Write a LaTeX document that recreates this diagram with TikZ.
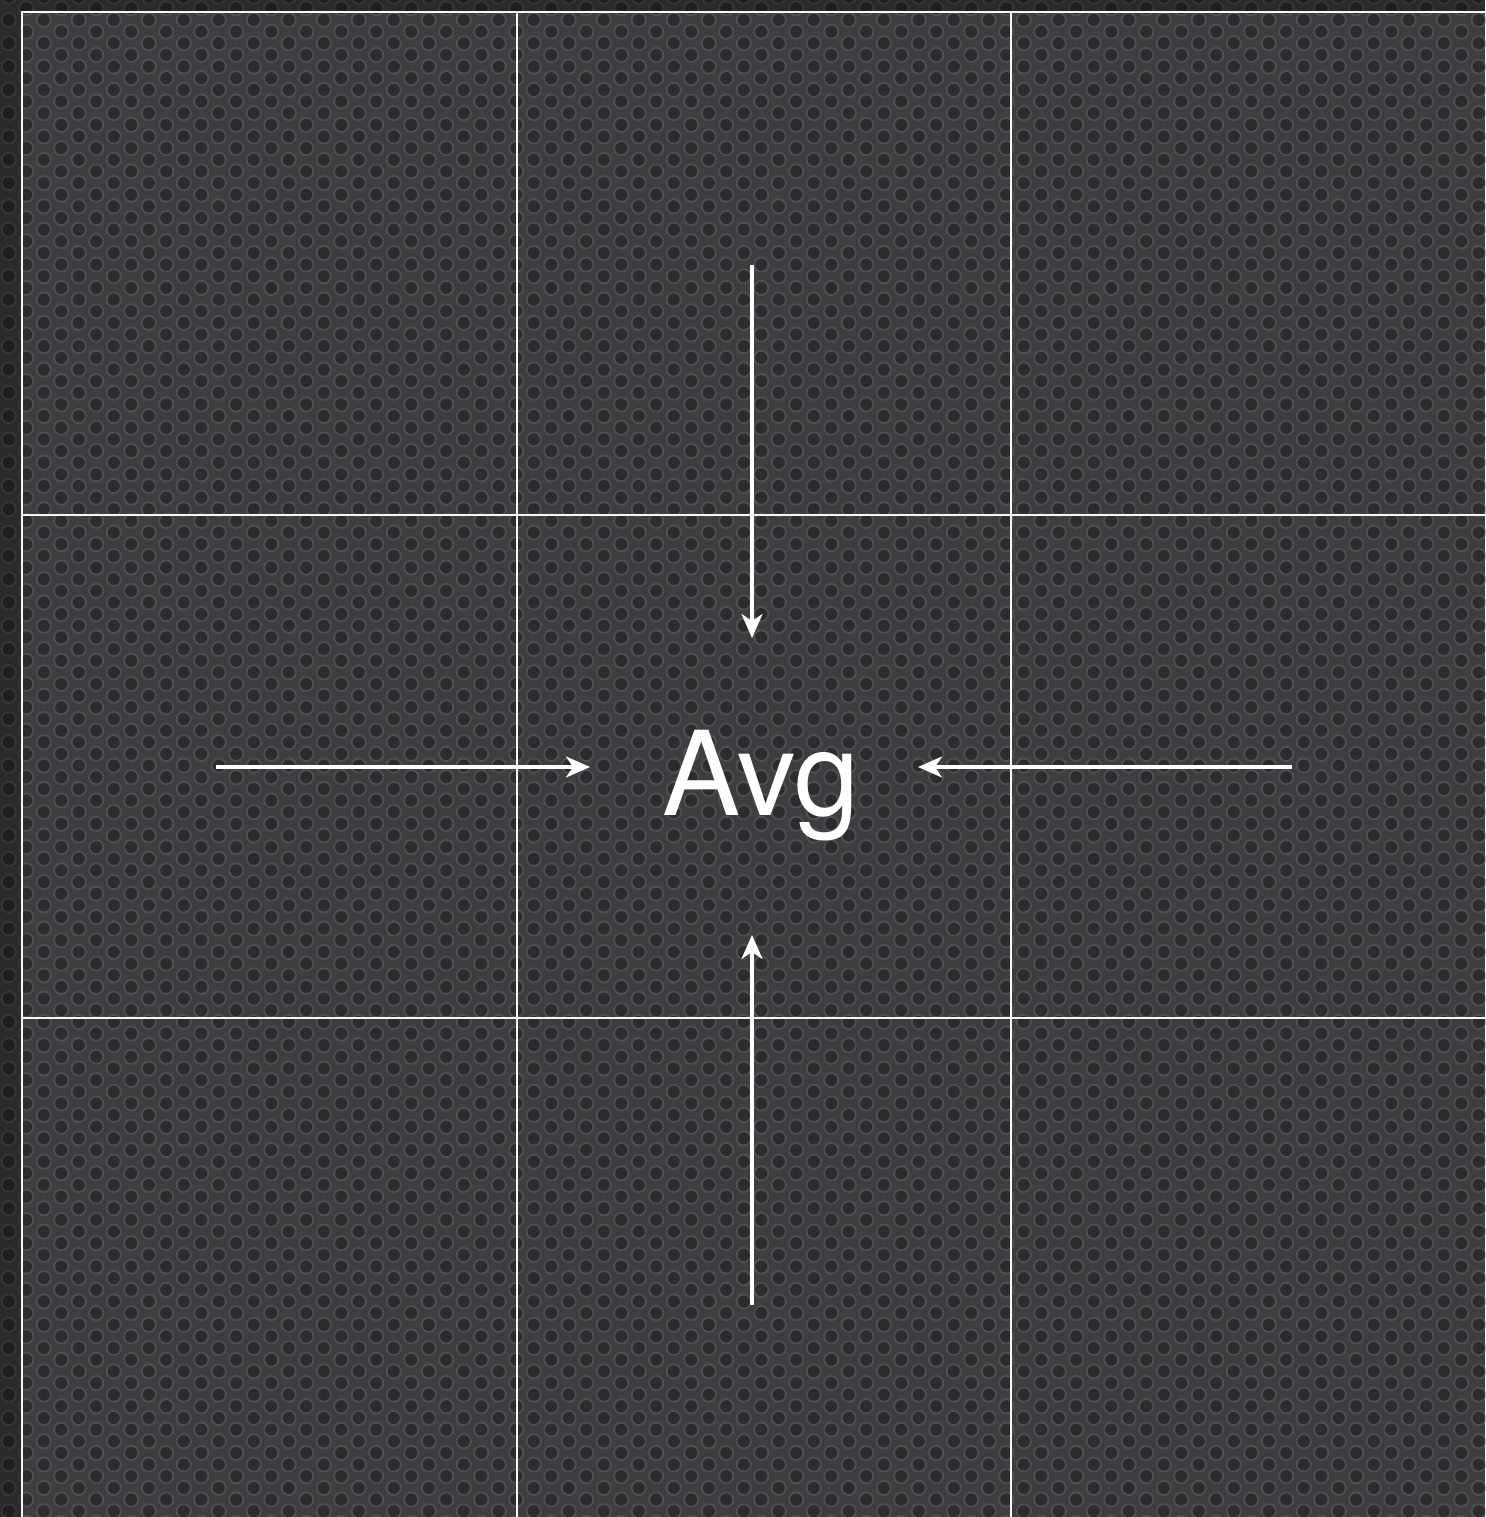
\documentclass[tikz,border=0pt]{standalone}
\usepackage{fontspec}
\setmainfont{TeX Gyre Heros}
\usetikzlibrary{arrows.meta,patterns}
\definecolor{bgbase}{HTML}{3E3E41}
\definecolor{holefill}{HTML}{2D2B2E}
\definecolor{holering}{HTML}{4F4F54}
\pgfdeclarepatterninherentlycolored{holes}{\pgfpoint{-1pt}{-3pt}}{\pgfpoint{36pt}{27pt}}{\pgfpoint{35pt}{23.3pt}}{%
  \pgfsetlinewidth{1.8pt}%
  \pgfsetfillcolor{holefill}\pgfsetstrokecolor{holering}%
  \pgfpathcircle{\pgfpoint{8.75pt}{5.8pt}}{7.1pt}%
  \pgfpathcircle{\pgfpoint{26.25pt}{17.45pt}}{7.1pt}%
  \pgfusepath{fill,stroke}%
}
\tikzset{
  gridline/.style={draw=white!92!gray, line width=2.2pt},
  flow/.style={draw=white, line width=3.2pt, -{Stealth[length=24pt,width=21pt,inset=7pt]}},
  avgtext/.style={font=\fontsize{117}{117}\selectfont, text=white, inner sep=0pt, anchor=base},
}
\begin{document}
\begin{tikzpicture}[x=1pt,y=-1pt]
\useasboundingbox (0,0) rectangle (1485,1517);
\fill[bgbase] (0,0) rectangle (1485,1517);
\fill[pattern=holes] (0,0) rectangle (1485,1517);
% darker outer strips
\fill[black, opacity=0.3] (0,0) rectangle (22,1517);
\fill[black, opacity=0.3] (22,0) rectangle (1485,12);
% grid
\coordinate (tl) at (22,12);
\coordinate (tr) at (1485,12);
\coordinate (bl) at (22,1517);
\draw[gridline] (tr) -- (tl) -- (bl);
\draw[gridline] (517,12) -- (517,1517);
\draw[gridline] (1011,12) -- (1011,1517);
\draw[gridline] (22,515) -- (1485,515);
\draw[gridline] (22,1018) -- (1485,1018);
% centre label
\node[avgtext] (avg) at (761,815) {Avg};
% arrow endpoints
\coordinate (ntail) at (752,265);
\coordinate (nhead) at (752,638);
\coordinate (wtail) at (216,767);
\coordinate (whead) at (590,767);
\coordinate (etail) at (1292,767);
\coordinate (ehead) at (918,767);
\coordinate (stail) at (752,1305);
\coordinate (shead) at (752,935);
\draw[flow] (ntail) -- (nhead);
\draw[flow] (wtail) -- (whead);
\draw[flow] (etail) -- (ehead);
\draw[flow] (stail) -- (shead);
\end{tikzpicture}
\end{document}
